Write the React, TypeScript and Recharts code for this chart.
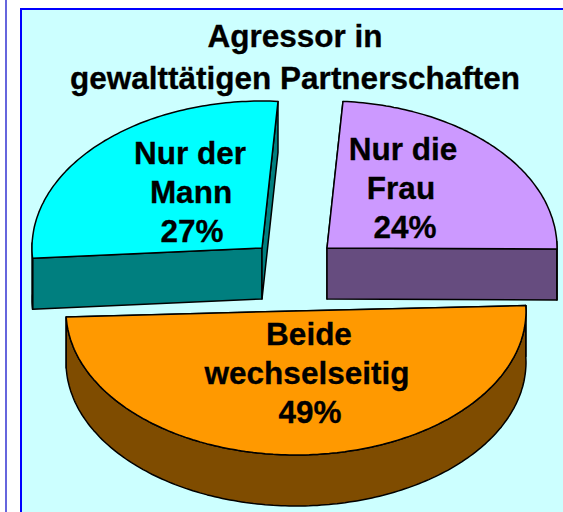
import { PieChart, Pie, Cell } from 'recharts';

const SLICE_NAMES = ['Nur die Frau', 'Beide wechselseitig', 'Nur der Mann'];
const SLICE_VALUES = [24, 49, 27];
const TOP_COLORS = ['#CC99FF', '#FF9900', '#00FFFF'];
const WALL_COLORS = ['#664C7F', '#7F4C00', '#007F7F'];
const LABEL_LINES = [['Nur die', 'Frau'], ['Beide', 'wechselseitig'], ['Nur der', 'Mann']];
const TITLE_LINES = ['Agressor in', 'gewalttätigen Partnerschaften'];

const data = SLICE_NAMES.map((name, i) => ({ name, value: SLICE_VALUES[i] }));

// perspective of the fake 3D pie
const CX = 295;
const CY = 268;
const RX = 230;
const RY = 147;
const DEPTH = 51;
const FONT = '"Liberation Sans", Arial, sans-serif';
const FONT_SIZE = 31.5;

// how far each slice is pulled out of the pie, squashed radius, and the small
// angle error the original drawing has at the ends of a slice
const EXPLODE = [
  { dx: 32, dy: -20, ry: RY, skewStart: 0, skewEnd: 0 },
  { dx: 1, dy: 43, ry: 144, skewStart: 2.6, skewEnd: -0.8 },
  { dx: -33, dy: -20, ry: RY, skewStart: 0.8, skewEnd: 0 },
];
// label block first baseline and per-line centres
const LABEL_POS = [
  { y: 160, x: [403, 401, 405] },
  { y: 345, x: [309, 307, 310] },
  { y: 164, x: [190, 191, 192] },
];
const LINE_H = 39;

const rad = (a: number) => (a * Math.PI) / 180;

function SliceShape(props: any) {
  const { cx, cy, name } = props;
  const i = SLICE_NAMES.indexOf(name);
  const { dx, dy, ry, skewStart, skewEnd } = EXPLODE[i];
  const startAngle = props.startAngle + skewStart;
  const endAngle = props.endAngle + skewEnd;
  const ax = cx + dx;
  const ay = cy + dy;
  const pt = (a: number) => [ax + RX * Math.cos(rad(a)), ay - ry * Math.sin(rad(a))];

  const steps = Math.ceil(Math.abs(endAngle - startAngle));
  const arc: number[][] = [];
  const angles: number[] = [];
  for (let s = 0; s <= steps; s++) {
    const a = startAngle + ((endAngle - startAngle) * s) / steps;
    angles.push(a);
    arc.push(pt(a));
  }
  const poly = (pts: number[][]) => pts.map((p) => p.map((v) => v.toFixed(1)).join(',')).join(' ');

  const wallOf = (p: number[]) => [[ax, ay], p, [p[0], p[1] + DEPTH], [ax, ay + DEPTH]];
  const lower = arc.filter((_, k) => Math.sin(rad(angles[k])) <= 0.05);
  const outer = lower.length > 1 ? [...lower, ...[...lower].reverse().map((p) => [p[0], p[1] + DEPTH])] : null;
  const style = { stroke: '#000', strokeWidth: 1.5, strokeLinejoin: 'round' as const };

  return (
    <g>
      <polygon points={poly(wallOf(arc[0]))} fill={WALL_COLORS[i]} {...style} />
      <polygon points={poly(wallOf(arc[arc.length - 1]))} fill={WALL_COLORS[i]} {...style} />
      {outer && <polygon points={poly(outer)} fill={WALL_COLORS[i]} {...style} />}
      <polygon points={poly([[ax, ay], ...arc])} fill={TOP_COLORS[i]} {...style} />
    </g>
  );
}

function SliceLabel(props: any) {
  const i = SLICE_NAMES.indexOf(props.name);
  const pos = LABEL_POS[i];
  const lines = [...LABEL_LINES[i], `${SLICE_VALUES[i]}%`];
  return (
    <text fontFamily={FONT} fontWeight="bold" fontSize={FONT_SIZE} fill="#000" stroke="#000" strokeWidth={0.3} textAnchor="middle">
      {lines.map((l, k) => (
        <tspan key={k} x={pos.x[k]} y={pos.y + k * LINE_H}>{l}</tspan>
      ))}
    </text>
  );
}

export default function App() {
  return (
    <div style={{ position: 'absolute', left: 0, top: 0, width: 563, height: 512, overflow: 'hidden', background: '#fff' }}>
      <div style={{ position: 'absolute', left: 5, top: 0, width: 2, height: 512, background: '#6666DD' }} />
      <div style={{ position: 'absolute', left: 20, top: 8, width: 600, height: 600, boxSizing: 'border-box', background: '#CCFFFF', border: '2px solid #0000FF' }} />
      <div style={{ position: 'absolute', left: 0, top: 0 }}>
        <PieChart width={563} height={512} margin={{ top: 0, right: 0, bottom: 0, left: 0 }}>
          <text fontFamily={FONT} fontWeight="bold" fontSize={FONT_SIZE} fill="#000" stroke="#000" strokeWidth={0.3} textAnchor="middle">
            <tspan x={295} y={47}>{TITLE_LINES[0]}</tspan>
            <tspan x={295} y={89}>{TITLE_LINES[1]}</tspan>
          </text>
          <Pie
            data={data}
            dataKey="value"
            nameKey="name"
            cx={CX}
            cy={CY}
            outerRadius={RX}
            startAngle={86}
            endAngle={-274}
            paddingAngle={0}
            isAnimationActive={false}
            shape={SliceShape}
            label={SliceLabel}
            labelLine={false}
          >
            {data.map((_, i) => <Cell key={i} fill={TOP_COLORS[i]} />)}
          </Pie>
        </PieChart>
      </div>
    </div>
  );
}
